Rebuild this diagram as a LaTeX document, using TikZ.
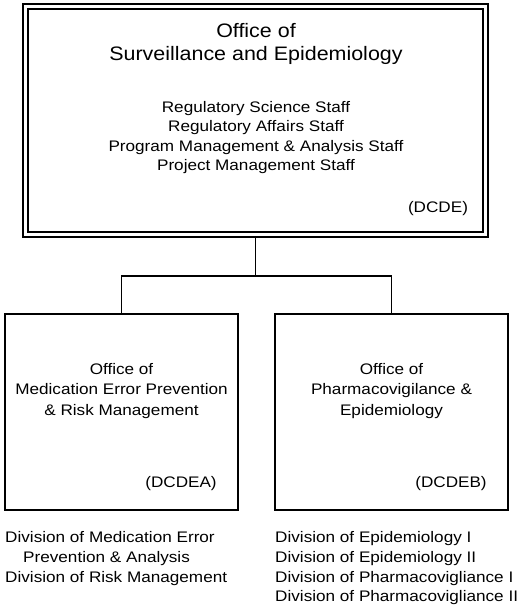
\documentclass[tikz,border=0pt]{standalone}
\usepackage{fontspec}
\setmainfont{Liberation Sans}
\begin{document}
\begin{tikzpicture}[x=1pt,y=-1pt,
  txt/.style={font=\fontsize{15.3}{20}\selectfont, xscale=1.12, transform shape, inner sep=0pt, text=black},
  ttl/.style={font=\fontsize{19.5}{23}\selectfont, xscale=1.1, transform shape, inner sep=0pt, text=black},
  link/.style={line width=1.9pt},
  subbox/.style={draw, line width=1.9pt, minimum width=233pt, minimum height=196pt, inner sep=0pt},
  topbox/.style={draw, double, double distance=3.5pt, line width=1.6pt, minimum width=460pt, minimum height=228pt, inner sep=0pt}]
\useasboundingbox (0,0) rectangle (523,608);

% boxes
\node[topbox] (T) at (255.5,120.5) {};
\node[subbox] (L) at (121.5,412) {};
\node[subbox] (R) at (391.5,412) {};

% connectors
\coordinate (j) at (T.south |- 0,276);
\draw[link] ([yshift=-2.5pt]T.south) -- (j);
\draw[link] (L.north) |- (j) -| (R.north);

% top box text
\node[ttl, anchor=base] (t1) at (256,37) {Office of};
\node[ttl, anchor=base] (t2) at (256,60) {Surveillance and Epidemiology};
\node[txt, anchor=base] (s1) at (256,112) {Regulatory Science Staff};
\node[txt, anchor=base] (s2) at (256,131.5) {Regulatory Affairs Staff};
\node[txt, anchor=base] (s3) at (256,151) {Program Management \& Analysis Staff};
\node[txt, anchor=base] (s4) at (256,170.5) {Project Management Staff};
\node[txt, anchor=base] (c0) at (438,212) {(DCDE)};

% left box text
\node[txt, anchor=base] (l1) at (121.5,374) {Office of};
\node[txt, anchor=base] (l2) at (121.5,394.5) {Medication Error Prevention};
\node[txt, anchor=base] (l3) at (121.5,415) {\& Risk Management};
\node[txt, anchor=base] (cl) at (181,487) {(DCDEA)};

% right box text
\node[txt, anchor=base] (r1) at (391.5,374) {Office of};
\node[txt, anchor=base] (r2) at (391.5,394.5) {Pharmacovigilance \&};
\node[txt, anchor=base] (r3) at (391.5,415) {Epidemiology};
\node[txt, anchor=base] (cr) at (451,487) {(DCDEB)};

% divisions below
\node[txt, anchor=base west] (dl1) at (5,542) {Division of Medication Error};
\node[txt, anchor=base west] (dl2) at (23,562) {Prevention \& Analysis};
\node[txt, anchor=base west] (dl3) at (5,582) {Division of Risk Management};

\node[txt, anchor=base west] (dr1) at (275,542) {Division of Epidemiology I};
\node[txt, anchor=base west] (dr2) at (275,562) {Division of Epidemiology II};
\node[txt, anchor=base west] (dr3) at (275,582) {Division of Pharmacovigliance I};
\node[txt, anchor=base west] (dr4) at (275,601.5) {Division of Pharmacovigliance II};
\end{tikzpicture}
\end{document}
